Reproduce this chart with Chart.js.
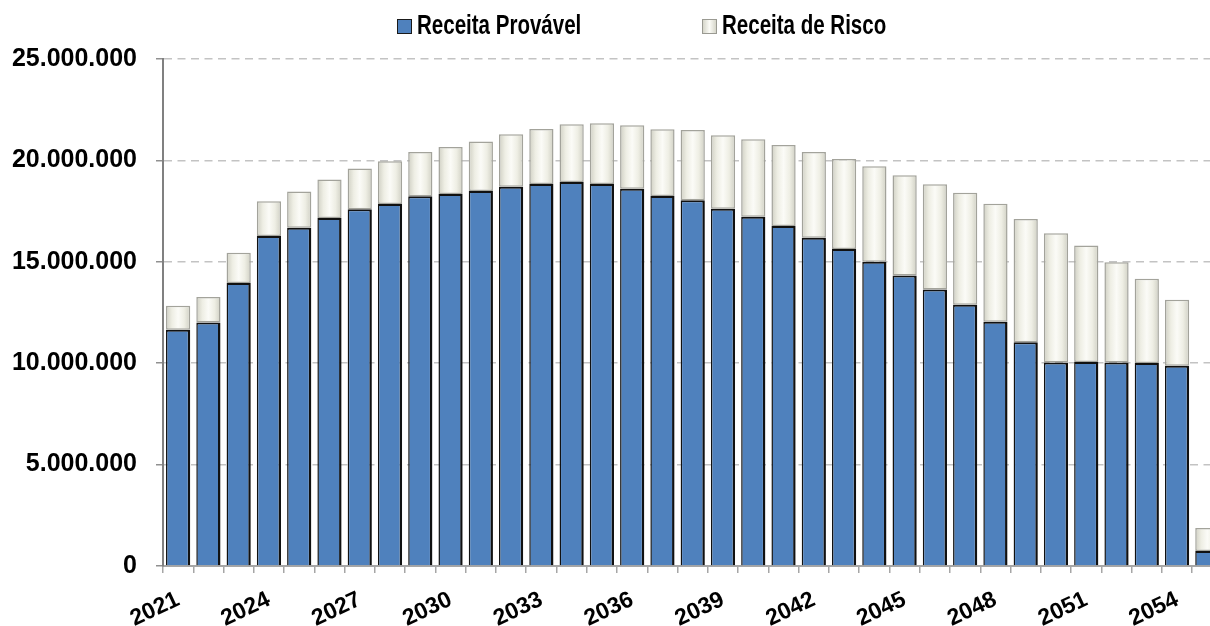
<!doctype html>
<html lang="pt">
    <head>
        <meta charset="UTF-8" />
        <title>Receita</title>
        <style>
            html, body { margin: 0; padding: 0; background: #fff; overflow: hidden; }
            #wrap { position: relative; width: 1232px; height: 626px; }
            #legend {
                position: absolute; top: 9px; left: 0; height: 32px;
                font: bold 27px "Liberation Sans", sans-serif;
                color: #000;
            }
            .item { position: absolute; top: 0; white-space: nowrap; line-height: 32px; }
            .box { position: absolute; top: 10px; width: 13px; height: 13px; }
            .item span { position: absolute; left: 20px; top: 0; transform: scaleX(0.76); transform-origin: 0 0; }
        </style>
    </head>
    <body>
        <div id="wrap">
            <canvas id="chart"></canvas>
            <div id="legend"></div>
        </div>

        <script src="https://cdn.jsdelivr.net/npm/chart.js"></script>
        <script>
            const years = [
                2021, 2022, 2023, 2024, 2025, 2026, 2027, 2028, 2029, 2030,
                2031, 2032, 2033, 2034, 2035, 2036, 2037, 2038, 2039, 2040,
                2041, 2042, 2043, 2044, 2045, 2046, 2047, 2048, 2049, 2050,
                2051, 2052, 2053, 2054, 2055,
            ];

            // Receita Provável
            const provavel = [
                11650000, 12010000, 13960000, 16270000, 16680000, 17160000, 17590000, 17850000, 18230000, 18340000,
                18490000, 18700000, 18840000, 18930000, 18840000, 18600000, 18250000, 18040000, 17620000, 17220000,
                16760000, 16190000, 15630000, 15000000, 14320000, 13630000, 12880000, 12050000, 11030000, 10030000,
                10060000, 10030000, 10010000, 9880000, 740000,
            ];

            // Receita de Risco (parcela acima da provável)
            const risco = [
                1180000, 1260000, 1490000, 1720000, 1790000, 1900000, 2010000, 2110000, 2190000, 2320000,
                2440000, 2590000, 2710000, 2850000, 2990000, 3130000, 3280000, 3460000, 3620000, 3820000,
                4000000, 4230000, 4440000, 4710000, 4950000, 5200000, 5520000, 5810000, 6080000, 6380000,
                5740000, 4950000, 4150000, 3250000, 1130000,
            ];

            const yTicks = [0, 5000000, 10000000, 15000000, 20000000, 25000000];

            const blue = "#4f81bd";
            const cream = "#f0f0e6";
            const barPct = 0.8;

            // legend as html, so the boxes can sit where the original has them
            const legendItems = [
                { text: "Receita Provável", fill: blue, border: "#1a1a1a", left: 397 },
                { text: "Receita de Risco", fill: "linear-gradient(90deg,#d6d6ca,#fbfbf6,#d6d6ca)", border: "#9a9a92", left: 702 },
            ];
            const legendEl = document.getElementById("legend");
            legendItems.forEach((it) => {
                const d = document.createElement("div");
                d.className = "item";
                d.style.left = it.left + "px";
                d.innerHTML =
                    '<div class="box" style="background:' + it.fill + ";border:1px solid " + it.border +
                    '"></div><span>' + it.text + "</span>";
                legendEl.appendChild(d);
            });

            // shaded fill for the risk bars: darker at the edges, light in the middle
            function riskFill(c) {
                const x = c.chart.scales.x;
                if (!x || !x.width) return cream;
                const centre = x.getPixelForValue(c.dataIndex);
                const half = (x.width / years.length) * barPct / 2;
                const g = c.chart.ctx.createLinearGradient(centre - half, 0, centre + half, 0);
                g.addColorStop(0, "#cfcfc3");
                g.addColorStop(0.25, "#eeeee4");
                g.addColorStop(0.5, "#fbfbf7");
                g.addColorStop(0.75, "#eeeee4");
                g.addColorStop(1, "#cfcfc3");
                return g;
            }

            const ctx = document.getElementById("chart").getContext("2d");

            new Chart(ctx, {
                type: "bar",
                data: {
                    labels: years.map(String),
                    datasets: [
                        {
                            label: "Receita Provável",
                            data: provavel,
                            backgroundColor: blue,
                            borderColor: "#111",
                            borderWidth: { top: 2, left: 1.5, right: 2.5, bottom: 0 },
                            borderSkipped: false,
                            barPercentage: barPct,
                            categoryPercentage: 1.0,
                        },
                        {
                            label: "Receita de Risco",
                            data: risco,
                            backgroundColor: riskFill,
                            borderColor: "#a3a39b",
                            borderWidth: 1.5,
                            borderSkipped: false,
                            barPercentage: barPct,
                            categoryPercentage: 1.0,
                        },
                    ],
                },
                options: {
                    responsive: true,
                    maintainAspectRatio: false,
                    animation: false,
                    layout: { padding: { top: 59, left: 0, right: 0, bottom: 0 } },
                    plugins: {
                        legend: { display: false },
                        tooltip: { enabled: false },
                    },
                    scales: {
                        x: {
                            stacked: true,
                            afterFit: (s) => { s.height = 60; },
                            border: { color: "#a6a6a6", width: 2 },
                            grid: {
                                offset: true,
                                drawOnChartArea: false,
                                drawTicks: true,
                                tickLength: 7,
                                tickColor: "#a6a6a6",
                                lineWidth: 1.5,
                            },
                            ticks: {
                                autoSkip: false,
                                minRotation: 25,
                                maxRotation: 25,
                                padding: 13,
                                color: "#000",
                                font: { family: "Liberation Sans", size: 23, weight: "bold" },
                                callback: function (v, i) {
                                    return i % 3 === 0 ? this.getLabelForValue(v) : "";
                                },
                            },
                        },
                        y: {
                            stacked: true,
                            min: 0,
                            max: 25000000,
                            afterFit: (s) => { s.width = 163; },
                            afterBuildTicks: (s) => { s.ticks = yTicks.map((v) => ({ value: v })); },
                            border: { color: "#808080", width: 2, dash: [8, 5.5] },
                            grid: {
                                color: "#c3c3c3",
                                lineWidth: 1.5,
                                tickLength: 7,
                                tickColor: "#909090",
                                tickBorderDash: [],
                            },
                            ticks: {
                                padding: 19,
                                color: "#000",
                                font: { family: "Liberation Sans", size: 25, weight: "bold" },
                                callback: (v) => v.toLocaleString("de-DE"),
                            },
                        },
                    },
                },
            });
        </script>
    </body>
</html>
